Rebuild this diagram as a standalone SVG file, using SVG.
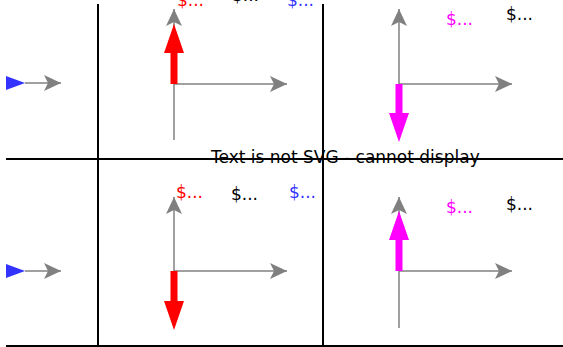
<svg xmlns="http://www.w3.org/2000/svg" width="563" height="347" viewBox="0 0 563 347">
<style>
.frame{stroke:#000;stroke-width:2;fill:none}
.axis{stroke:#808080;stroke-width:1.5;fill:none}
.lbl{font-family:"DejaVu Sans",sans-serif;font-size:17px}
.red{fill:#FF0000}.blue{fill:#3333FF}.mag{fill:#FF00FF}.blk{fill:#000}
</style>
<defs>
<marker id="ga" viewBox="0 0 17 16" refX="17" refY="8" markerWidth="17" markerHeight="16" markerUnits="userSpaceOnUse" orient="auto">
<path d="M0,0 L17,8 L0,16 L4,8 Z" fill="#808080"/>
</marker>
</defs>
<rect width="563" height="347" fill="#fff"/>
<g id="connectors">
<line class="frame" x1="98" y1="4" x2="98" y2="347"/>
<line class="frame" x1="323" y1="4" x2="323" y2="347"/>
<line class="frame" x1="6" y1="159" x2="563" y2="159"/>
<line class="frame" x1="6" y1="346" x2="563" y2="346"/>
</g>
<text class="lbl" x="211" y="163" fill="#000">Text is not SVG - cannot display</text>
<g id="p-left-top">
<polygon class="blue" points="6,76 25,83 6,90"/>
<line class="axis" x1="25" y1="83" x2="61" y2="83" marker-end="url(#ga)"/>
</g>
<g id="p-left-bottom">
<polygon class="blue" points="6,264 25,271 6,278"/>
<line class="axis" x1="25" y1="271" x2="61" y2="271" marker-end="url(#ga)"/>
</g>
<g id="p-mid-top">
<line class="axis" x1="174" y1="140" x2="174" y2="9" marker-end="url(#ga)"/>
<line class="axis" x1="174" y1="84" x2="287" y2="84" marker-end="url(#ga)"/>
<polygon class="red" points="170.5,84 170.5,53 164,53 174,24 184,53 177.5,53 177.5,84"/>
<text class="lbl red" x="177" y="6">$...</text>
<text class="lbl blk" x="232" y="1">$...</text>
<text class="lbl blue" x="287" y="6">$...</text>
</g>
<g id="p-mid-bottom">
<line class="axis" x1="174" y1="271" x2="174" y2="197" marker-end="url(#ga)"/>
<line class="axis" x1="174" y1="271" x2="287" y2="271" marker-end="url(#ga)"/>
<polygon class="red" points="170.5,271 170.5,301 164,301 174,330 184,301 177.5,301 177.5,271"/>
<text class="lbl red" x="176" y="198">$...</text>
<text class="lbl blk" x="231" y="200">$...</text>
<text class="lbl blue" x="289" y="198">$...</text>
</g>
<g id="p-right-top">
<line class="axis" x1="399" y1="84" x2="399" y2="9" marker-end="url(#ga)"/>
<line class="axis" x1="399" y1="84" x2="512" y2="84" marker-end="url(#ga)"/>
<polygon class="mag" points="395.5,84 395.5,113 389,113 399,142 409,113 402.5,113 402.5,84"/>
<text class="lbl mag" x="446" y="25">$...</text>
<text class="lbl blk" x="506" y="20">$...</text>
</g>
<g id="p-right-bottom">
<line class="axis" x1="399" y1="328" x2="399" y2="197" marker-end="url(#ga)"/>
<line class="axis" x1="399" y1="271" x2="512" y2="271" marker-end="url(#ga)"/>
<polygon class="mag" points="395.5,271 395.5,240 389,240 399,211 409,240 402.5,240 402.5,271"/>
<text class="lbl mag" x="446" y="213">$...</text>
<text class="lbl blk" x="506" y="210">$...</text>
</g>
</svg>
